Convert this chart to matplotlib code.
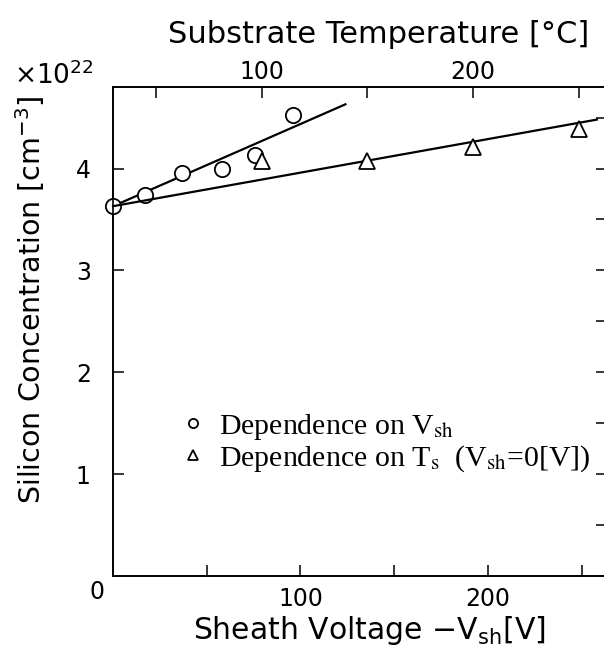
import matplotlib
matplotlib.use("Agg")
import matplotlib.pyplot as plt
from matplotlib.font_manager import FontProperties

# data (concentration in units of 1e22 cm^-3)
vsh = [0, 17, 37, 58, 76, 96]                 # sheath voltage -Vsh [V]
conc_vsh = [3.63, 3.74, 3.96, 4.00, 4.13, 4.53]
ts = [100, 150, 200, 250]                     # substrate temperature [C]
conc_ts = [4.07, 4.07, 4.21, 4.39]

# hand-drawn fit lines (end points)
fit_vsh = [0, 124]
fit_conc_vsh = [3.63, 4.63]
fit_ts = [29.6, 258.6]
fit_conc_ts = [3.63, 4.48]

x_ticks = [50, 100, 150, 200, 250]
x_ticklabels = ["", "100", "", "200", ""]
y_ticks = [1, 2, 3, 4]
y_ticklabels = ["1", "2", "3", "4"]
y_minor = [0.5, 1, 1.5, 2, 2.5, 3, 3.5, 4, 4.5]

plt.rcParams['font.family'] = ['DejaVu Sans']
plt.rcParams['mathtext.fontset'] = 'dejavusans'

fig = plt.figure(figsize=(6.04, 6.54), dpi=100)
ax = fig.add_axes([113 / 604, 78 / 654, 491 / 604, 489 / 654])

# bottom axis: sheath voltage
ax.plot(fit_vsh, fit_conc_vsh, color='black', lw=1.6, zorder=3, clip_on=False)
ax.plot(vsh, conc_vsh, 'o', ms=11, mfc='white', mec='black', mew=1.3,
        zorder=4, clip_on=False, label=r'Dependence on V$_{\mathrm{sh}}$')
ax.set_xlim(0, 262)
ax.set_ylim(0, 4.8)

# top axis: substrate temperature
ax2 = ax.twiny()
ax2.plot(fit_ts, fit_conc_ts, color='black', lw=1.6, zorder=3, clip_on=False)
ax2.plot(ts, conc_ts, '^', ms=11, mfc='white', mec='black', mew=1.3,
         zorder=4, clip_on=False,
         label=r'Dependence on T$_{\mathrm{s}}$  (V$_{\mathrm{sh}}$=0[V])')
ax2.set_xlim(29.6, 262)

for a in (ax, ax2):
    a.spines['right'].set_visible(False)
    for s in ('left', 'top', 'bottom'):
        a.spines[s].set_linewidth(1.2)

ax.set_xticks(x_ticks)
ax.set_xticklabels(x_ticklabels)
ax.set_yticks(y_ticks)
ax.set_yticklabels(y_ticklabels)
ax.tick_params(direction='in', length=8, width=1.1, labelsize=17, pad=8)
ax.tick_params(axis='y', pad=16)

ax2.set_xticks(x_ticks)
ax2.set_xticklabels(x_ticklabels)
ax2.tick_params(direction='in', length=8, width=1.1, labelsize=17, pad=2)

# small ticks along the (missing) right edge
sec = ax.secondary_yaxis('right')
sec.spines['right'].set_visible(False)
sec.set_yticks(y_minor)
sec.set_yticklabels([])
sec.tick_params(direction='in', length=6, width=1.1)

ax.annotate("0", xy=(0, 0), xycoords='axes fraction', xytext=(-16, -16),
            textcoords='offset pixels', ha='center', va='center', fontsize=17)

ax.set_xlabel(r'Sheath Voltage $-$V$_{\mathrm{sh}}$[V]', fontsize=21.5)
ax.xaxis.set_label_coords(0.523, -0.078)
ax2.set_xlabel('Substrate Temperature [°C]', fontsize=22)
ax2.xaxis.set_label_coords(0.542, 1.09)
ax.set_ylabel(r'Silicon Concentration [cm$^{-3}$]', fontsize=20.5)
ax.yaxis.set_label_coords(-0.135, 0.565)
fig.text(14 / 604, 1 - 76 / 654, r'$\times$10$^{22}$', fontsize=19,
         ha='left', va='center')

handles = ax.get_lines()[1:2] + ax2.get_lines()[1:2]
labels = [h.get_label() for h in handles]
legend_font = FontProperties(family=['Liberation Serif', 'DejaVu Serif'],
                             size=21.5, math_fontfamily='stix')
ax2.legend(handles, labels, loc='upper left', frameon=False, prop=legend_font,
           markerscale=0.6, handlelength=0.7, handletextpad=0.5,
           labelspacing=0.05, borderaxespad=0,
           bbox_to_anchor=(171 / 604, 1 - 400 / 654),
           bbox_transform=fig.transFigure)

fig.savefig("out.png", dpi=100)
